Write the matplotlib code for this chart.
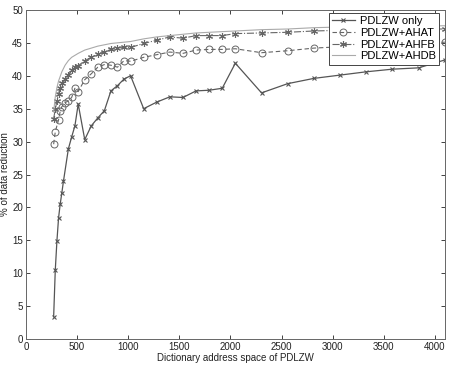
import numpy as np
import matplotlib
matplotlib.use("Agg")
import matplotlib.pyplot as plt

# dictionary address space (x)
x_only = [272, 288, 304, 320, 336, 352, 368, 416, 448, 480, 512, 576, 640, 704, 768, 832,
          896, 960, 1024, 1152, 1280, 1408, 1536, 1664, 1792, 1920, 2048, 2304, 2560,
          2816, 3072, 3328, 3584, 3840, 4096]
y_only = [3.4, 10.5, 14.9, 18.4, 20.5, 22.2, 24.0, 28.9, 30.7, 32.4, 35.7, 30.3, 32.4, 33.6,
          34.7, 37.7, 38.5, 39.5, 40.0, 35.0, 36.0, 36.8, 36.7, 37.7, 37.8, 38.1, 41.9,
          37.4, 38.8, 39.6, 40.1, 40.6, 41.0, 41.2, 42.4]

x_ahat = [272, 288, 320, 336, 352, 384, 416, 448, 480, 512, 576, 640, 704, 768, 832, 896,
          960, 1024, 1152, 1280, 1408, 1536, 1664, 1792, 1920, 2048, 2304, 2560, 2816,
          3072, 3328, 3584, 3840, 4096]
y_ahat = [29.6, 31.5, 33.3, 34.6, 35.3, 35.9, 36.2, 36.7, 38.1, 37.6, 39.4, 40.3, 41.3,
          41.7, 41.6, 41.3, 42.3, 42.2, 42.8, 43.2, 43.6, 43.4, 43.9, 44.0, 44.0, 44.1,
          43.5, 43.8, 44.2, 44.4, 44.6, 44.8, 44.9, 45.1]

x_ahfb = [272, 288, 304, 320, 336, 352, 384, 416, 448, 480, 512, 576, 640, 704, 768, 832,
          896, 960, 1024, 1152, 1280, 1408, 1536, 1664, 1792, 1920, 2048, 2304, 2560,
          2816, 3072, 3328, 3584, 3840, 4096]
y_ahfb = [33.5, 34.9, 36.2, 37.3, 38.1, 38.9, 39.5, 40.1, 40.8, 41.3, 41.5, 42.3, 42.8,
          43.3, 43.6, 44.0, 44.2, 44.3, 44.3, 44.9, 45.4, 45.9, 45.7, 46.1, 46.1, 46.1,
          46.4, 46.5, 46.6, 46.8, 46.9, 47.0, 47.0, 47.1, 47.1]

x_ahdb = [272, 288, 304, 320, 352, 384, 416, 448, 512, 576, 640, 704, 768, 832, 960, 1024,
          1152, 1280, 1408, 1536, 1664, 1792, 1920, 2048, 2304, 2560, 2816, 3072, 3328,
          3584, 3840, 4096]
y_ahdb = [34.5, 36.8, 38.2, 39.2, 40.6, 41.6, 42.3, 42.8, 43.4, 43.9, 44.2, 44.5, 44.7,
          44.9, 45.1, 45.2, 45.6, 45.9, 46.1, 46.3, 46.5, 46.6, 46.7, 46.8, 47.0, 47.1,
          47.3, 47.4, 47.4, 47.5, 47.5, 47.6]

plt.rcParams["font.family"] = "Liberation Sans"

fig = plt.figure(figsize=(4.53, 3.67), dpi=100)
ax = fig.add_axes([0.057, 0.076, 0.925, 0.897])

ax.plot(x_only, y_only, color="#555555", lw=0.9, marker="x", ms=3.5, mew=0.8,
        label="PDLZW only")
ax.plot(x_ahat, y_ahat, color="#666666", lw=0.8, ls=(0, (4, 2.5)), marker="o", ms=5,
        mfc="none", mew=0.7, label="PDLZW+AHAT")
ax.plot(x_ahfb, y_ahfb, color="#666666", lw=0.8, ls="-.", marker=(6, 2, 0), ms=5, mew=0.8,
        label="PDLZW+AHFB")
ax.plot(x_ahdb, y_ahdb, color="#aaaaaa", lw=0.8, label="PDLZW+AHDB")

ax.set_xlim(0, 4096)
ax.set_ylim(0, 50)
ax.set_xticks(np.arange(0, 4001, 500))
ax.set_yticks(np.arange(0, 51, 5))
ax.tick_params(direction="in", length=3, width=0.6, labelsize=7, colors="#222222",
               top=True, right=True, pad=2)
for s in ax.spines.values():
    s.set_linewidth(0.7)
    s.set_color("#666666")

ax.set_xlabel("Dictionary address space of PDLZW", fontsize=7, labelpad=1, color="#222222")
ax.set_ylabel("% of data reduction", fontsize=7, labelpad=2, color="#222222")

leg = ax.legend(loc="upper right", fontsize=8, frameon=True, fancybox=False,
                borderpad=0.3, labelspacing=0.15, handlelength=2.0, handletextpad=0.5,
                borderaxespad=0, bbox_to_anchor=(0.987, 0.991))
leg.get_frame().set_edgecolor("#444444")
leg.get_frame().set_linewidth(0.7)
leg.get_frame().set_alpha(1)

fig.savefig("out.png", dpi=100)
